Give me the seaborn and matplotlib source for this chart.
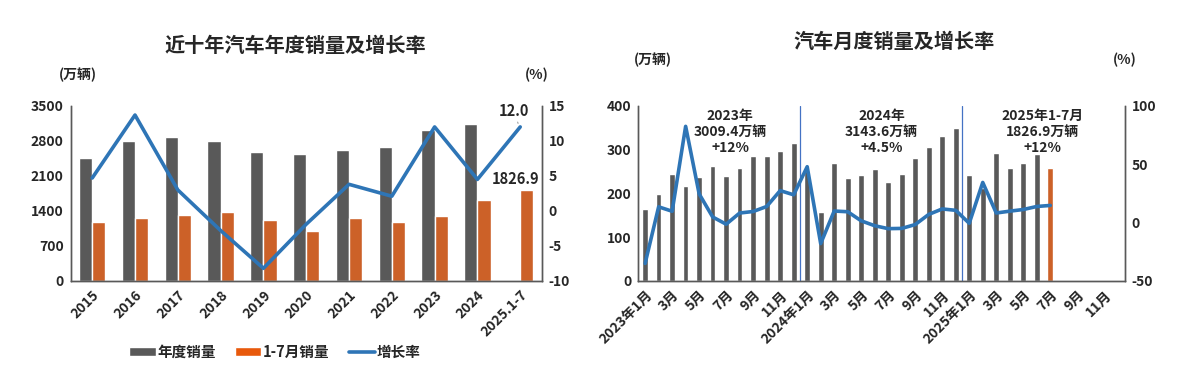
import numpy as np
import pandas as pd
import matplotlib
matplotlib.use("Agg")
import matplotlib.pyplot as plt
import seaborn as sns
from matplotlib.patches import Patch
from matplotlib.lines import Line2D

# 近十年数据
years = ["2015", "2016", "2017", "2018", "2019", "2020", "2021", "2022", "2023", "2024", "2025.1-7"]
annual_sales = [2459.8, 2802.8, 2887.9, 2808.1, 2576.9, 2531.1, 2627.5, 2686.4, 3009.4, 3143.6, np.nan]
jan_jul_sales = [1170, 1266, 1319, 1387, 1212, 1004, 1266, 1186, 1306, 1616, 1826.9]
annual_growth = [4.7, 13.7, 3.0, -2.8, -8.2, -1.9, 3.8, 2.1, 12.0, 4.5, 12.0]

# 月度数据
month_keys = [f"{y}-{m:02d}" for y in (2023, 2024, 2025) for m in range(1, 13)]
month_labels = [f"{y}年1月" if m == 1 else f"{m}月" for y in (2023, 2024, 2025) for m in range(1, 13)]
monthly_sales = [164.9, 197.6, 245.1, 215.9, 238.2, 262.2, 238.7, 258.2, 285.8, 285.3, 297.0, 315.6,
                 252.0, 158.4, 269.4, 235.9, 241.7, 255.2, 226.2, 245.3, 280.9, 305.3, 331.7, 349.6,
                 242.3, 212.0, 291.5, 259.0, 268.6, 290.4, 259.1] + [np.nan] * 5
monthly_growth = [-35.0, 13.5, 9.7, 82.5, 24.6, 4.8, -1.4, 8.2, 9.5, 13.8, 27.4, 23.8,
                  47.9, -18.0, 9.9, 9.3, 1.5, -2.7, -5.2, -5.0, -1.7, 7.0, 11.7, 10.5,
                  -0.6, 34.4, 8.2, 9.8, 11.2, 13.8, 14.7] + [np.nan] * 5
year_notes = ["2023年\n3009.4万辆\n+12%", "2024年\n3143.6万辆\n+4.5%", "2025年1-7月\n1826.9万辆\n+12%"]

gray = "#595959"
orange = "#E8590C"
blue = "#2E75B6"

sns.set_theme(style="white")
plt.rcParams["font.family"] = ["Noto Sans CJK SC", "DejaVu Sans"]
plt.rcParams["font.weight"] = "bold"
plt.rcParams["axes.unicode_minus"] = False

fig = plt.figure(figsize=(11.8, 3.88), dpi=100)
ax1 = fig.add_axes([0.060, 0.276, 0.399, 0.451])
ax3 = fig.add_axes([0.541, 0.276, 0.412, 0.451])

# 左图：年度销量
df_year = pd.DataFrame({
    "year": years * 2,
    "sales": annual_sales + jan_jul_sales,
    "series": ["年度销量"] * len(years) + ["1-7月销量"] * len(years),
}).dropna()
sns.barplot(data=df_year, x="year", y="sales", hue="series", order=years,
            hue_order=["年度销量", "1-7月销量"], palette=[gray, orange],
            width=0.62, errorbar=None, legend=False, ax=ax1)
ax1.set_ylim(0, 3500)
ax1.set_yticks(range(0, 3501, 700))
ax1.set_xlim(-0.5, len(years) - 0.5)
ax1.set_xlabel("")
ax1.set_ylabel("")
ax1.set_xticks(range(len(years)))
ax1.set_xticklabels(years, rotation=45, ha="right", rotation_mode="anchor", fontsize=10.5, fontweight="bold")

ax2 = ax1.twinx()
sns.lineplot(x=np.arange(len(years)), y=annual_growth, color=blue, linewidth=2.6, ax=ax2)
ax2.set_ylim(-10, 15)
ax2.set_yticks(range(-10, 16, 5))
ax1.set_xlim(-0.5, len(years) - 0.5)
ax2.annotate("12.0", xy=(len(years) - 1 - 0.05, annual_growth[-1] + 0.5), xytext=(len(years) - 1.15, 14.3),
             ha="center", va="center", fontsize=10.5, fontweight="bold",
             arrowprops=dict(arrowstyle="-", color="#A0A0A0", lw=0.8))
ax1.text(len(years) - 1.1, jan_jul_sales[-1] + 220, "1826.9", ha="center", va="center",
         fontsize=10.5, fontweight="bold")

# 右图：月度销量
df_month = pd.DataFrame({
    "month": month_keys,
    "sales": monthly_sales,
    "kind": ["月度"] * 30 + ["当月"] + ["月度"] * 5,
}).dropna()
sns.barplot(data=df_month, x="month", y="sales", hue="kind", order=month_keys,
            palette={"月度": gray, "当月": orange}, dodge=False, width=0.42,
            errorbar=None, legend=False, ax=ax3)
ax3.set_ylim(0, 400)
ax3.set_yticks(range(0, 401, 100))
ax3.set_xlabel("")
ax3.set_ylabel("")
ax3.set_xticks(range(0, len(month_labels), 2))
ax3.set_xticklabels(month_labels[::2], rotation=45, ha="right", rotation_mode="anchor",
                    fontsize=10, fontweight="bold")
for xv in (11.5, 23.5):
    ax3.axvline(xv, color="#4472C4", lw=0.9)
for xv, note in zip((6.3, 17.5, 29.4), year_notes):
    ax3.text(xv, 392, note, ha="center", va="top", fontsize=10, fontweight="bold", linespacing=1.15)

ax4 = ax3.twinx()
sns.lineplot(x=np.arange(len(month_keys)), y=monthly_growth, color=blue, linewidth=2.6, ax=ax4)
ax4.set_ylim(-50, 100)
ax4.set_yticks(range(-50, 101, 50))
ax3.set_xlim(-0.5, len(month_keys) - 0.5)

for a in (ax1, ax2, ax3, ax4):
    for side in ("left", "right", "bottom"):
        a.spines[side].set_visible(True)
        a.spines[side].set_color(gray)
        a.spines[side].set_linewidth(1.0)
    a.spines["top"].set_visible(False)
    a.tick_params(length=0, labelsize=10, pad=5)
    a.grid(False)
    for lbl in a.get_yticklabels():
        lbl.set_fontweight("bold")
ax2.set_ylabel("")
ax4.set_ylabel("")

# 标题与单位
fig.text(0.250, 0.884, "近十年汽车年度销量及增长率", ha="center", va="center", fontsize=14.5, fontweight="bold")
fig.text(0.758, 0.892, "汽车月度销量及增长率", ha="center", va="center", fontsize=14.5, fontweight="bold")
fig.text(0.066, 0.806, "(万辆)", ha="center", va="center", fontsize=10, fontweight="bold")
fig.text(0.455, 0.806, "(%)", ha="center", va="center", fontsize=10, fontweight="bold")
fig.text(0.553, 0.845, "(万辆)", ha="center", va="center", fontsize=10, fontweight="bold")
fig.text(0.953, 0.845, "(%)", ha="center", va="center", fontsize=10, fontweight="bold")

handles = [Patch(facecolor=gray), Patch(facecolor=orange), Line2D([0], [0], color=blue, lw=2.6)]
fig.legend(handles, ["年度销量", "1-7月销量", "增长率"], loc="center", bbox_to_anchor=(0.233, 0.093),
           ncol=3, frameon=False, fontsize=10.5, handlelength=1.8, handleheight=0.55,
           handletextpad=0.12, columnspacing=1.3)

fig.savefig("out.png", dpi=100)
